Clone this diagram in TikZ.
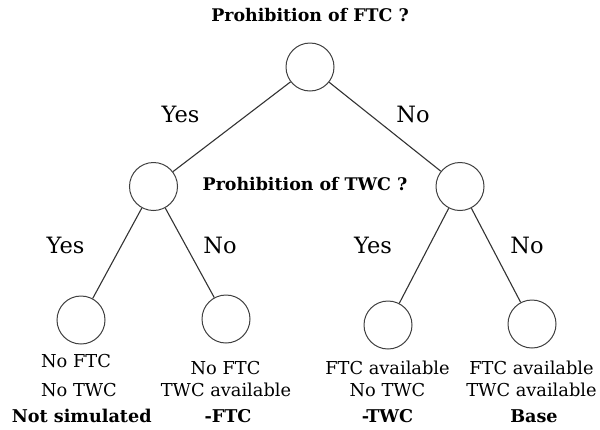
\documentclass[tikz,border=0pt]{standalone}
\usepackage{fontspec}
\setmainfont{DejaVu Serif}
\begin{document}
\begin{tikzpicture}[x=1pt,y=-1pt,
  dec/.style={circle,draw=black!75,line width=1pt,minimum size=48pt,inner sep=0pt},
  edge/.style={draw=black!80,line width=1.1pt},
  yn/.style={font=\fontsize{22.5}{22.5}\selectfont,inner sep=0pt},
  ttl/.style={font=\fontsize{17.4}{17.4}\selectfont\bfseries,inner sep=0pt},
  txt/.style={font=\fontsize{17.8}{17.8}\selectfont,inner sep=0pt},
  res/.style={font=\fontsize{17.6}{17.6}\selectfont\bfseries,inner sep=0pt}]
\useasboundingbox (0,0) rectangle (600,429);
\node[ttl] (t1) at (310,15) {Prohibition of FTC ?};
\node[ttl] (t2) at (305,184) {Prohibition of TWC ?};
\node[dec] (r) at (310,67) {};
\node[dec] (a) at (153.5,186.5) {};
\node[dec] (b) at (460,186.5) {};
\node[dec] (l1) at (81,320) {};
\node[dec] (l2) at (226,319) {};
\node[dec] (l3) at (388,325) {};
\node[dec] (l4) at (532,324) {};
\draw[edge] (r) -- (a);
\draw[edge] (r) -- (b);
\draw[edge] (a) -- (l1);
\draw[edge] (a) -- (l2);
\draw[edge] (b) -- (l3);
\draw[edge] (b) -- (l4);
\node[yn,anchor=base] (y1) at (180.5,122.7) {Yes};
\node[yn,anchor=base] (n1) at (413,122.7) {No};
\node[yn,anchor=base] (y2) at (65.5,253.3) {Yes};
\node[yn,anchor=base] (n2) at (220,253.3) {No};
\node[yn,anchor=base] (y3) at (373,253.3) {Yes};
\node[yn,anchor=base] (n3) at (527,253.3) {No};
\node[txt,anchor=base] (a1) at (76,367) {No FTC};
\node[txt,anchor=base] (a2) at (79,396.7) {No TWC};
\node[res,anchor=base] (a3) at (81.7,422.7) {Not simulated};
\node[txt,anchor=base] (b1) at (225.5,374.3) {No FTC};
\node[txt,anchor=base] (b2) at (226,396.7) {TWC available};
\node[res,anchor=base] (b3) at (228,422) {-FTC};
\node[txt,anchor=base] (c1) at (387.5,374.3) {FTC available};
\node[txt,anchor=base] (c2) at (387.5,396.7) {No TWC};
\node[res,anchor=base] (c3) at (387.5,422) {-TWC};
\node[txt,anchor=base] (d1) at (531.5,374.3) {FTC available};
\node[txt,anchor=base] (d2) at (531.5,396.7) {TWC available};
\node[res,anchor=base] (d3) at (534,422) {Base};
\end{tikzpicture}
\end{document}
